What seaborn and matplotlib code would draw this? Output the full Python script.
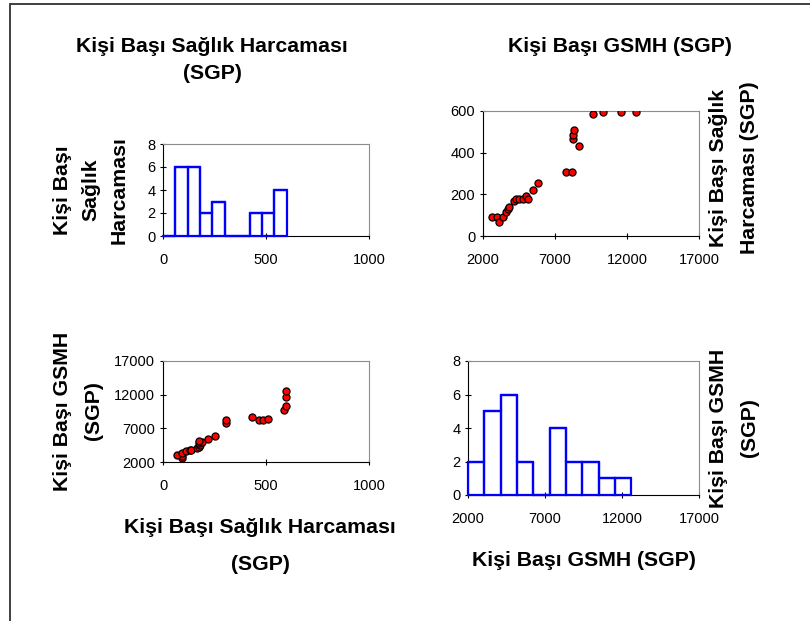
import matplotlib
matplotlib.use("Agg")
import matplotlib.pyplot as plt
from matplotlib.lines import Line2D
import numpy as np
import pandas as pd
import seaborn as sns

# ---------------- data ----------------
gsmh = [2620, 2950, 3090, 3360, 3620, 3730, 3780, 4130, 4290, 4520, 4770, 5000, 5140,
        5440, 5840, 7780, 8190, 8220, 8260, 8330, 8700, 9650, 10350, 11600, 12600]
health = [90, 90, 68, 90, 114, 129, 137, 166, 177, 180, 177, 190, 177,
          219, 254, 306, 306, 466, 486, 511, 434, 587, 597, 597, 597]

health_edges = [0, 60, 120, 180, 240, 300, 360, 420, 480, 540, 600]
health_counts = [0, 6, 6, 2, 3, 0, 0, 2, 2, 4]
gsmh_edges = [2000, 3060, 4120, 5180, 6240, 7300, 8360, 9420, 10480, 11540, 12600]
gsmh_counts = [2, 5, 6, 2, 0, 4, 2, 2, 1, 1]

health_label = "Kişi Başı Sağlık Harcaması"
gsmh_label = "Kişi Başı GSMH"
unit = "(SGP)"

health_ticks = [0, 500, 1000]
gsmh_ticks = [2000, 7000, 12000, 17000]
count_ticks = [0, 2, 4, 6, 8]
spend_ticks = [0, 200, 400, 600]

# ---------------- style ----------------
sns.set_theme(style="white")
plt.rcParams["font.family"] = ["Liberation Sans", "DejaVu Sans"]

W, H = 810, 621
fig = plt.figure(figsize=(W / 100, H / 100), dpi=100)
fig.patch.set_facecolor("white")


def box(l, t, r, b):
    return [l / W, 1 - b / H, (r - l) / W, (b - t) / H]


ax_tl = fig.add_axes(box(163, 144, 369, 236))
ax_tr = fig.add_axes(box(483, 111, 699, 236))
ax_bl = fig.add_axes(box(163, 361, 369, 462))
ax_br = fig.add_axes(box(468, 361, 699, 495))

df = pd.DataFrame({"gsmh": gsmh, "health": health})
h_mid = [(a + b) / 2 for a, b in zip(health_edges[:-1], health_edges[1:])]
g_mid = [(a + b) / 2 for a, b in zip(gsmh_edges[:-1], gsmh_edges[1:])]

HIST_COLOR = "#0000ff"
for ax, mids, counts, edges in ((ax_tl, h_mid, health_counts, health_edges),
                                (ax_br, g_mid, gsmh_counts, gsmh_edges)):
    # individual bar outlines
    sns.histplot(x=mids, weights=counts, bins=edges, ax=ax, fill=False,
                 color=HIST_COLOR, linewidth=1.6, element="bars",
                 zorder=3, clip_on=False)
    # step contour so empty bins show as a line on the baseline
    sns.histplot(x=mids, weights=counts, bins=edges, ax=ax, fill=False,
                 color=HIST_COLOR, linewidth=1.6, element="step",
                 zorder=3, clip_on=False)

sns.scatterplot(data=df, x="gsmh", y="health", ax=ax_tr, color="#ff0000",
                edgecolor="black", linewidth=0.9, s=26, zorder=3)
sns.scatterplot(data=df, x="health", y="gsmh", ax=ax_bl, color="#ff0000",
                edgecolor="black", linewidth=0.9, s=26, zorder=3)

ax_tl.set_xlim(0, 1000); ax_tl.set_ylim(0, 8)
ax_tl.set_xticks(health_ticks); ax_tl.set_yticks(count_ticks)
ax_tr.set_xlim(2000, 17000); ax_tr.set_ylim(0, 600)
ax_tr.set_xticks(gsmh_ticks); ax_tr.set_yticks(spend_ticks)
ax_bl.set_xlim(0, 1000); ax_bl.set_ylim(2000, 17000)
ax_bl.set_xticks(health_ticks); ax_bl.set_yticks(gsmh_ticks)
ax_br.set_xlim(2000, 17000); ax_br.set_ylim(0, 8)
ax_br.set_xticks(gsmh_ticks); ax_br.set_yticks(count_ticks)

for ax in (ax_tl, ax_tr, ax_bl, ax_br):
    ax.set_xlabel("")
    ax.set_ylabel("")
    ax.set_facecolor("white")
    ax.grid(False)
    ax.tick_params(axis="both", which="major", direction="inout", length=5,
                   width=0.8, color="black", labelcolor="black", labelsize=10.5,
                   bottom=True, left=True, top=False, right=False)
    ax.tick_params(axis="x", pad=9.5)
    ax.tick_params(axis="y", pad=3)
    for s in ("left", "bottom"):
        ax.spines[s].set_color("black")
        ax.spines[s].set_linewidth(0.8)
    for s in ("top", "right"):
        ax.spines[s].set_color("#8c8c8c")
        ax.spines[s].set_linewidth(0.8)

lab = dict(fontsize=15.3, fontweight="bold", color="black", ha="center", va="center")

# titles
fig.text(212 / W, 1 - 60 / H, health_label + "\n" + unit, linespacing=1.55, **lab)
fig.text(620 / W, 1 - 46 / H, gsmh_label + " " + unit, **lab)
# bottom x labels
fig.text(260 / W, 1 - 546 / H, health_label + "\n" + unit, linespacing=2.22, **lab)
fig.text(584 / W, 1 - 560 / H, gsmh_label + " " + unit, **lab)
# y labels
fig.text(91 / W, 1 - 190 / H, "Kişi Başı\nSağlık\nHarcaması", rotation=90,
         linespacing=1.62, **lab)
fig.text(78 / W, 1 - 411 / H, gsmh_label + "\n" + unit, rotation=90,
         linespacing=1.77, **lab)
fig.text(734 / W, 1 - 168 / H, "Kişi Başı Sağlık\nHarcaması " + unit, rotation=90,
         linespacing=1.85, **lab)
fig.text(734 / W, 1 - 428 / H, gsmh_label + "\n" + unit, rotation=90,
         linespacing=1.85, **lab)

# outer frame (left and top edges visible)
fig.add_artist(Line2D([10 / W, 10 / W], [0, 1 - 4 / H], color="#404040", lw=1.4))
fig.add_artist(Line2D([10 / W, 1], [1 - 4 / H, 1 - 4 / H], color="#404040", lw=1.4))

fig.savefig("out.png", dpi=100, facecolor="white")
